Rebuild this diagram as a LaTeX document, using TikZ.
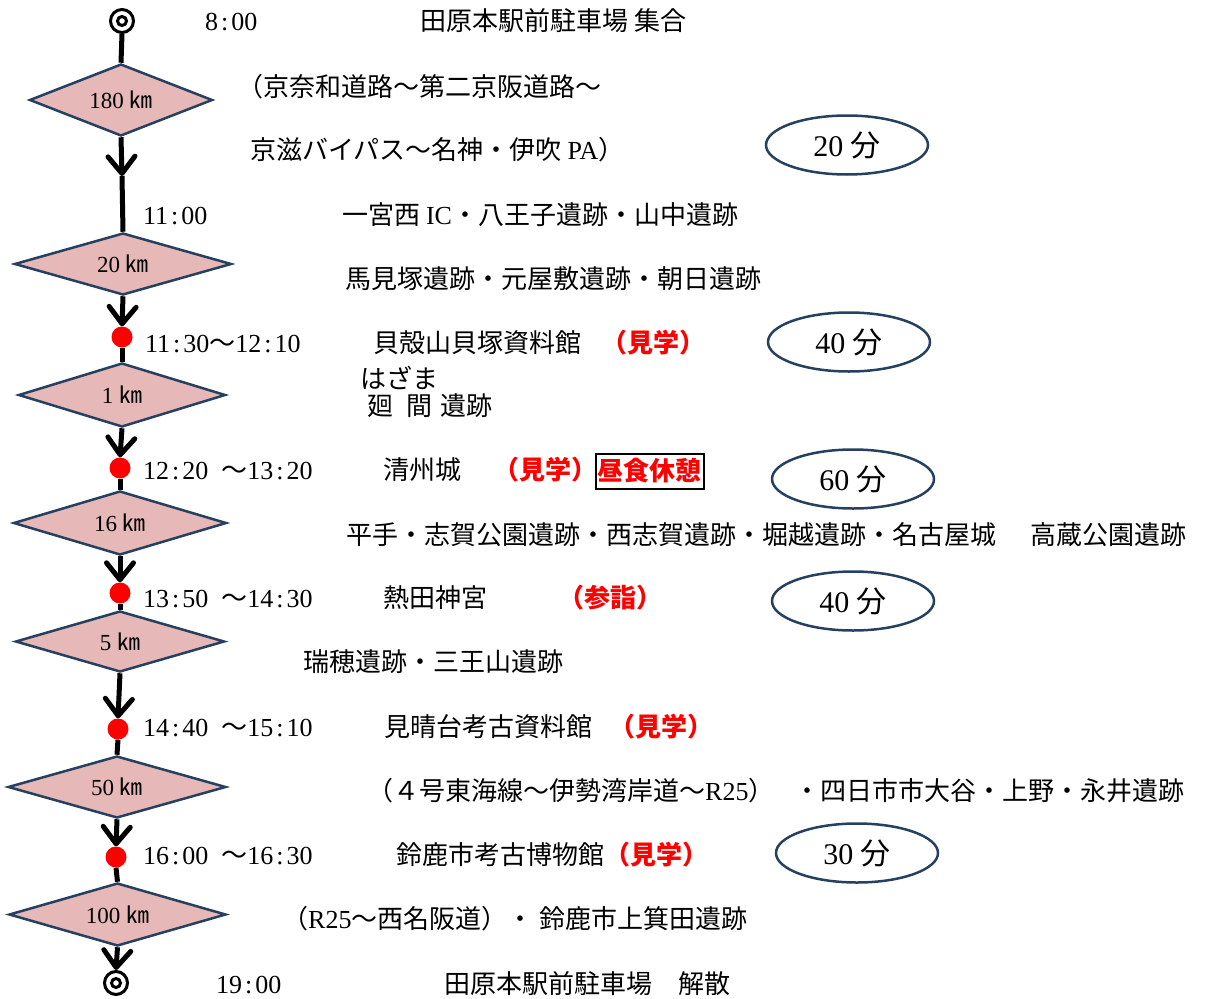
\documentclass[tikz,border=0pt]{standalone}
\usepackage{fontspec}
\setmainfont{Liberation Serif}
\newfontfamily\jp{Noto Sans CJK JP}
\usetikzlibrary{shapes.geometric,arrows.meta}
\definecolor{dpink}{RGB}{230,184,183}
\definecolor{dnavy}{RGB}{38,64,96}
\newcommand\cln{\hspace{3pt}:\hspace{3pt}}
\newcommand\tld{{\jp ～}}
\begin{document}
\begin{tikzpicture}[x=1pt,y=-1pt,
  flow/.style={line width=5pt},
  flowarrow/.style={line width=5pt,-{Straight Barb[length=17pt,width=27pt,round]}},
  ring/.style={circle,draw,line width=3pt,inner sep=0pt,fill=white},
  dia/.style={diamond,draw=dnavy,fill=dpink,line width=2.5pt,aspect=2.5,inner sep=1pt,font=\fontsize{23}{25}\selectfont},
  stop/.style={circle,fill=red,inner sep=0pt,minimum size=21pt},
  lbl/.style={anchor=west,inner sep=0pt,text height=19pt,text depth=1pt,font=\fontsize{26}{30}\selectfont},
  redlbl/.style={lbl,text=red},
  dur/.style={ellipse,draw=dnavy,line width=2.5pt,minimum width=162pt,minimum height=59pt,inner sep=0pt,font=\fontsize{30}{34}\selectfont},
  boxlbl/.style={draw=black,line width=2pt,inner xsep=2pt,inner ysep=3pt,minimum height=35pt,text=red,font=\fontsize{26}{30}\selectfont}
]
\useasboundingbox (0,0) rectangle (1209,998);

% flow nodes
\node[ring,minimum size=23pt] (s) at (122,21) {};
\node[ring,minimum size=9pt] (si) at (122,21) {};
\node[dia,minimum width=183pt,minimum height=72pt] (d1) at (121,100) {180 {\jp ㎞}};
\coordinate (a1) at (122,176);
\node[dia,minimum width=217pt,minimum height=62pt] (d2) at (123,264) {20 {\jp ㎞}};
\node[stop] (p1) at (122,337) {};
\node[dia,minimum width=207pt,minimum height=64pt] (d3) at (122,395) {1 {\jp ㎞}};
\node[stop] (p2) at (120,468) {};
\node[dia,minimum width=213pt,minimum height=64pt] (d4) at (120,523) {16 {\jp ㎞}};
\node[stop] (p3) at (120,593) {};
\node[dia,minimum width=209pt,minimum height=61pt] (d5) at (120,641.5) {5 {\jp ㎞}};
\node[stop] (p4) at (118,729) {};
\node[dia,minimum width=218pt,minimum height=62pt] (d6) at (117,787) {50 {\jp ㎞}};
\node[stop] (p5) at (116,857) {};
\node[dia,minimum width=217pt,minimum height=63pt] (d7) at (117.5,914.5) {100 {\jp ㎞}};
\node[ring,minimum size=23pt] (e) at (116,983) {};
\node[ring,minimum size=9pt] (ei) at (116,983) {};

% connectors
\draw[flow] (s.south) -- (d1.north);
\draw[flowarrow] (d1.south) -- (a1);
\draw[flow] (a1) -- (d2.north);
\draw[flowarrow] (d2.south) -- (p1.north);
\draw[flow] (p1.south) -- (d3.north);
\draw[flowarrow] (d3.south) -- (p2.north);
\draw[flow] (p2.south) -- (d4.north);
\draw[flowarrow] (d4.south) -- (p3.north);
\draw[flow] (p3.south) -- (d5.north);
\draw[flowarrow] (d5.south) -- (p4.north);
\draw[flow] (p4.south) -- (d6.north);
\draw[flowarrow] (d6.south) -- (p5.north);
\draw[flow] (p5.south) -- (d7.north);
\draw[flowarrow] (d7.south) -- (e.north);

% texts
\node[lbl] (t1) at (205,22) {8\cln 00};
\node[lbl] (t2) at (420,22) {\jp 田原本駅前駐車場 集合};
\node[lbl] (t3) at (237,87) {\jp （京奈和道路～第二京阪道路～};
\node[lbl] (t4) at (250,150) {\jp 京滋バイパス～名神・伊吹 {\rmfamily PA}）};
\node[lbl] (t5) at (143,215) {11\cln 00};
\node[lbl] (t6) at (342,215) {\jp 一宮西 {\rmfamily IC}・八王子遺跡・山中遺跡};
\node[lbl] (t7) at (345,279) {\jp 馬見塚遺跡・元屋敷遺跡・朝日遺跡};
\node[lbl] (t8) at (145,343) {11\cln 30\tld 12\cln 10};
\node[lbl] (t9) at (373,343) {\jp 貝殻山貝塚資料館};
\node[redlbl] (t10) at (601,343) {\jp\bfseries （見学）};
\node[lbl] (t11) at (360,379) {\jp はざま};
\node[lbl] (t12) at (367,406) {\jp 廻\hspace{13pt}間\hspace{8pt}遺跡};
\node[lbl] (t13) at (143,470) {12\cln 20\hspace{13pt}\tld 13\cln 20};
\node[lbl] (t14) at (383,470) {\jp 清州城};
\node[redlbl] (t15) at (493,470) {\jp\bfseries （見学）};
\node[boxlbl] (t16) at (649.5,471) {\jp\bfseries 昼食休憩};
\node[lbl] (t17) at (346,535) {\jp 平手・志賀公園遺跡・西志賀遺跡・堀越遺跡・名古屋城\hspace{34pt}高蔵公園遺跡};
\node[lbl] (t18) at (143,598) {13\cln 50\hspace{13pt}\tld 14\cln 30};
\node[lbl] (t19) at (383,598) {\jp 熱田神宮};
\node[redlbl] (t20) at (558,598) {\jp\bfseries （参詣）};
\node[lbl] (t21) at (303,662) {\jp 瑞穂遺跡・三王山遺跡};
\node[lbl] (t22) at (143,727) {14\cln 40\hspace{13pt}\tld 15\cln 10};
\node[lbl] (t23) at (384,727) {\jp 見晴台考古資料館};
\node[redlbl] (t24) at (609,727) {\jp\bfseries （見学）};
\node[lbl] (t25) at (367,791) {\jp （４号東海線～伊勢湾岸道～{\rmfamily R25}）\hspace{20pt}・四日市市大谷・上野・永井遺跡};
\node[lbl] (t26) at (143,855) {16\cln 00\hspace{13pt}\tld 16\cln 30};
\node[lbl] (t27) at (396,855) {\jp 鈴鹿市考古博物館{\color{red}\bfseries （見学）}};
\node[lbl] (t28) at (282,919) {\jp （{\rmfamily R25}～西名阪道）・ 鈴鹿市上箕田遺跡};
\node[lbl] (t29) at (216,984) {19\cln 00};
\node[lbl] (t30) at (444,984) {\jp 田原本駅前駐車場　解散};

% durations
\node[dur] (m1) at (847,145) {20 {\jp 分}};
\node[dur] (m2) at (849,342) {40 {\jp 分}};
\node[dur] (m3) at (853,479) {60 {\jp 分}};
\node[dur] (m4) at (853,601) {40 {\jp 分}};
\node[dur] (m5) at (857,853) {30 {\jp 分}};
\end{tikzpicture}
\end{document}
